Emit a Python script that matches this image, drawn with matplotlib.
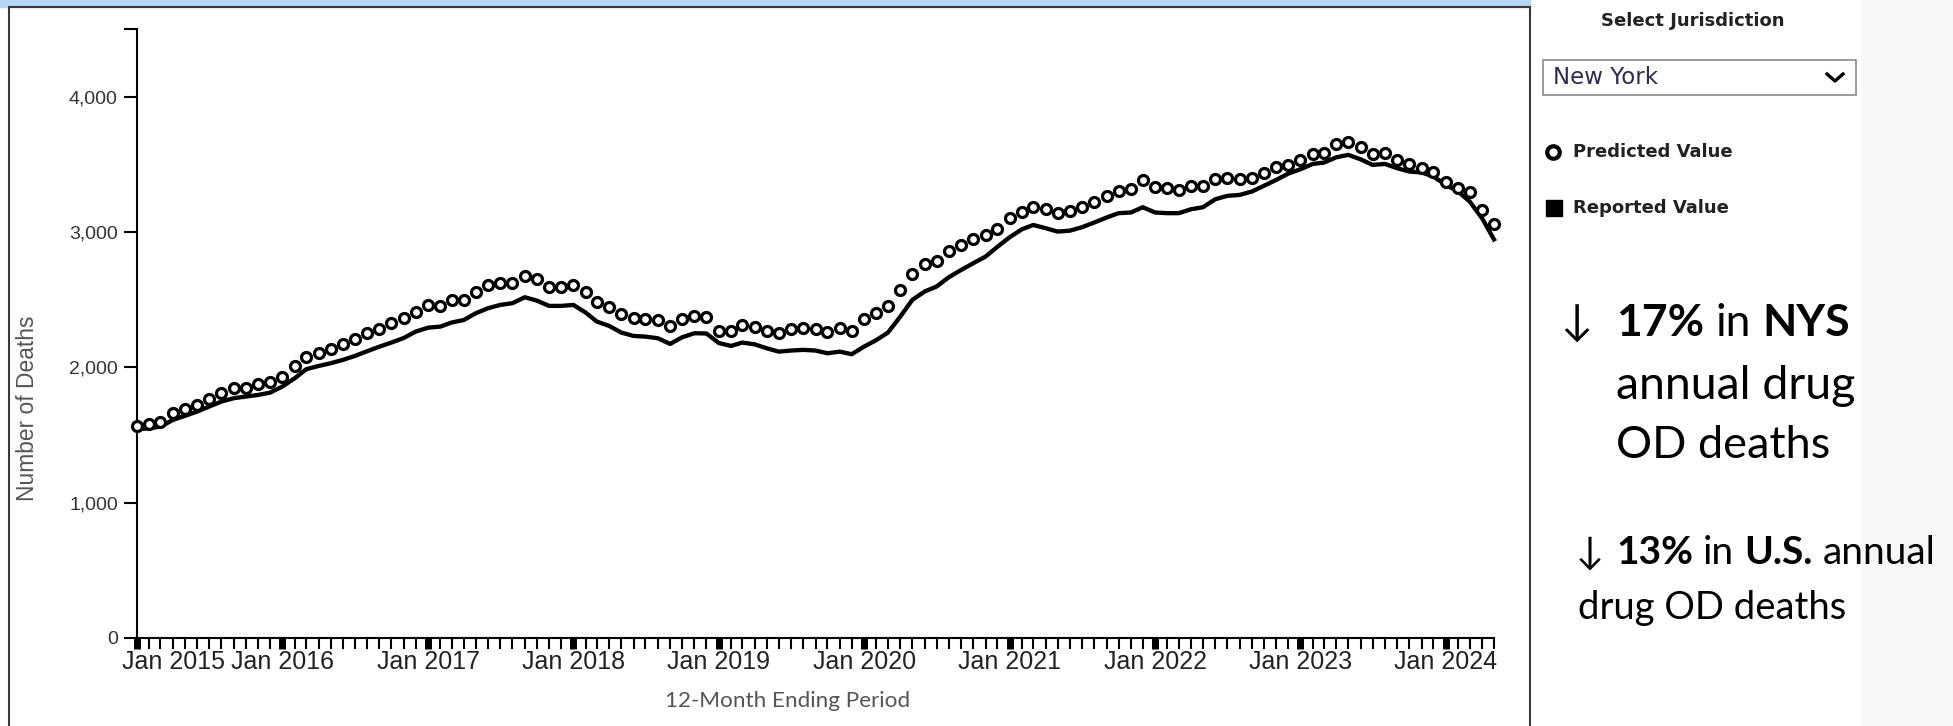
import matplotlib
matplotlib.use('Agg')
import matplotlib.pyplot as plt
from matplotlib.patches import Rectangle
from matplotlib.lines import Line2D
import pandas as pd

W, H = 1953, 726

# 12-month ending periods, Jan 2015 .. May 2024
months = pd.date_range('2015-01-01', '2024-05-01', freq='MS')

predicted = [1567, 1579, 1594, 1660, 1690, 1722, 1766, 1808, 1845, 1850, 1877, 1895,
             1932, 2010, 2079, 2109, 2133, 2173, 2207, 2257, 2281, 2326, 2363, 2412,
             2461, 2454, 2498, 2498, 2560, 2609, 2621, 2621, 2675, 2650, 2597, 2597,
             2609, 2560, 2486, 2449, 2395, 2363, 2355, 2350, 2306, 2355, 2380, 2370,
             2271, 2271, 2313, 2301, 2271, 2252, 2281, 2293, 2281, 2264, 2289, 2271,
             2355, 2400, 2456, 2572, 2690, 2764, 2789, 2856, 2905, 2947, 2979, 3025,
             3105, 3151, 3188, 3168, 3139, 3156, 3188, 3225, 3267, 3306, 3316, 3385,
             3331, 3323, 3311, 3341, 3341, 3390, 3397, 3390, 3397, 3434, 3479, 3492,
             3535, 3574, 3582, 3651, 3668, 3631, 3577, 3582, 3533, 3503, 3476, 3447,
             3373, 3328, 3299, 3163, 3060]

reported = [1542, 1550, 1562, 1611, 1641, 1673, 1710, 1747, 1772, 1784, 1796, 1813,
            1858, 1919, 1986, 2010, 2030, 2055, 2084, 2119, 2153, 2183, 2217, 2264,
            2293, 2301, 2331, 2350, 2400, 2437, 2461, 2474, 2518, 2493, 2454, 2454,
            2461, 2404, 2338, 2306, 2257, 2232, 2227, 2215, 2173, 2222, 2252, 2250,
            2180, 2158, 2183, 2170, 2141, 2116, 2124, 2129, 2124, 2104, 2116, 2097,
            2153, 2202, 2257, 2375, 2498, 2560, 2597, 2666, 2720, 2769, 2818, 2891,
            2962, 3021, 3052, 3028, 3003, 3010, 3035, 3070, 3107, 3139, 3144, 3183,
            3144, 3139, 3139, 3168, 3183, 3242, 3267, 3274, 3299, 3341, 3385, 3431,
            3464, 3503, 3513, 3552, 3570, 3537, 3496, 3503, 3471, 3447, 3440, 3410,
            3348, 3299, 3225, 3102, 2945]

year_ticks = pd.date_range('2015-01-01', '2024-01-01', freq='YS')
year_labels = ['Jan %d' % d.year for d in year_ticks]
y_ticks = [0, 1000, 2000, 3000, 4000, 4500]
y_labels = ['0', '1,000', '2,000', '3,000', '4,000', '']


def fx(x):
    return x / W


def fy(y):
    return 1 - y / H


fig = plt.figure(figsize=(W / 100, H / 100), dpi=100)

# page background pieces
fig.patches.append(Rectangle((fx(1862), 0), 1 - fx(1862), 1, transform=fig.transFigure,
                             color='#f7f7f7', zorder=0))
fig.patches.append(Rectangle((0, fy(7)), fx(1530), 1 - fy(7), transform=fig.transFigure,
                             color='#b3d7f5', zorder=0))
fig.patches.append(Rectangle((fx(9), -0.01), fx(1530) - fx(9), fy(7) + 0.01,
                             transform=fig.transFigure, fill=False,
                             edgecolor='#3a3a3a', lw=1.5, zorder=1))

ax = fig.add_axes([fx(137), fy(638), fx(1494) - fx(137), fy(29) - fy(638)])
ax.plot(months, reported, color='black', lw=3.1, solid_joinstyle='round', zorder=2, clip_on=False)
ax.plot(months, predicted, 'o', ms=7.2, mfc='white', mec='black', mew=2.3, zorder=3, clip_on=False)

ax.set_xlim(months[0], months[-1])
ax.set_ylim(0, 4500)
ax.set_facecolor('none')

ax.set_yticks(y_ticks)
ax.set_yticklabels(y_labels, fontsize=14, family='Liberation Sans', color='#333333')
ax.set_xticks(year_ticks)
# first label is nudged right in the original, drawn separately below
ax.set_xticklabels([''] + year_labels[1:], fontsize=18, family='Liberation Sans', color='#222222')
ax.set_xticks(months, minor=True)
ax.tick_params(axis='y', length=9.5, width=1.5, pad=4.3)
ax.tick_params(axis='x', which='major', length=8, width=5, pad=0.5)
ax.tick_params(axis='x', which='minor', length=8, width=1.5)
for s in ['top', 'right']:
    ax.spines[s].set_visible(False)
for s in ['left', 'bottom']:
    ax.spines[s].set_linewidth(1.5)

fig.text(fx(173.5), fy(662), year_labels[0], ha='center', va='center',
         fontsize=18, family='Liberation Sans', color='#222222')

fig.text(fx(28), fy(408), 'Number of Deaths', rotation=90, ha='center', va='center',
         fontsize=16.4, family='Liberation Sans', color='#555555')
fig.text(fx(788), fy(701), '12-Month Ending Period', ha='center', va='center',
         fontsize=16.2, family='Lato', color='#555555')

# right side controls
fig.text(fx(1693), fy(21), 'Select Jurisdiction', ha='center', va='center',
         fontsize=13, fontweight='bold', family='DejaVu Sans', color='#222222')
fig.patches.append(Rectangle((fx(1543), fy(95)), fx(1856) - fx(1543), fy(60) - fy(95),
                             transform=fig.transFigure, facecolor='white',
                             edgecolor='#8a8a8a', lw=1.2))
fig.text(fx(1553), fy(77), 'New York', va='center', fontsize=16.5, family='DejaVu Sans',
         color='#2d2d4d')
fig.add_artist(Line2D([fx(1827), fx(1835), fx(1843)], [fy(74), fy(81), fy(74)],
                      color='black', lw=2.4, transform=fig.transFigure))

fig.add_artist(Line2D([fx(1553)], [fy(152)], marker='o', ms=9, mfc='white', mec='black',
                      mew=3, transform=fig.transFigure))
fig.text(fx(1573), fy(152), 'Predicted Value', va='center', fontsize=13,
         fontweight='bold', family='DejaVu Sans', color='#222222')
fig.add_artist(Line2D([fx(1554)], [fy(208)], marker='s', ms=12, color='black',
                      transform=fig.transFigure))
fig.text(fx(1573), fy(208), 'Reported Value', va='center', fontsize=13,
         fontweight='bold', family='DejaVu Sans', color='#222222')

# annotation text with bold runs
r = fig.canvas.get_renderer()
fam = ['Lato', 'DejaVu Sans']


def runs(x, y, parts, size):
    gap = size * 100 / 72 * 0.26
    for txt, bold in parts:
        t = fig.text(fx(x), fy(y), txt, fontsize=size, va='baseline', family=fam,
                     fontweight='bold' if bold else 'normal', color='black')
        x = t.get_window_extent(r).x1 + gap


runs(1560, 336, [('↓', False)], 31)
runs(1616, 336, [('17%', True), ('in', False), ('NYS', True)], 32)
runs(1616, 399, [('annual drug', False)], 33.5)
runs(1616, 458, [('OD deaths', False)], 32.5)

runs(1576, 564, [('↓', False)], 27)
runs(1616, 564, [('13%', True), ('in', False), ('U.S.', True), ('annual', False)], 28)
runs(1578, 619, [('drug OD deaths', False)], 27.5)

fig.savefig('out.png', dpi=100)
